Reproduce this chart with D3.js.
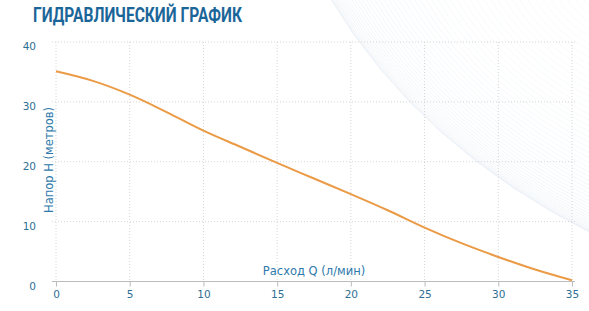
<!DOCTYPE html>
<html>
<head>
<meta charset="utf-8">
<script src="https://cdn.jsdelivr.net/npm/d3@7"></script>
<style>
  html, body { margin: 0; padding: 0; background: #fff; }
  svg { display: block; }
</style>
</head>
<body>
<div id="chart"></div>
<script>
// flow Q (l/min) and head H (m)
var flowQ = [0, 2.5, 5, 7.5, 10, 12.5, 15, 17.5, 20, 22.5, 25, 27.5, 30, 32.5, 35];
var headH = [35.1, 33.5, 31.2, 28.3, 25.2, 22.5, 19.8, 17.2, 14.6, 11.9, 9.0, 6.4, 4.1, 2.0, 0.2];
var xTicks = [0, 5, 10, 15, 20, 25, 30, 35];
var yTicks = [0, 10, 20, 30, 40];

var width = 589, height = 311;

var svg = d3.select("#chart").append("svg")
  .attr("width", width)
  .attr("height", height);

// decorative fan of thin lines at top right
var fan = svg.append("g");
var n = 50;
for (var i = 0; i <= n; i++) {
  var t = Math.pow(i / n, 1.6);
  var p = d3.path();
  p.moveTo(330 + t * 270, -2);
  p.quadraticCurveTo(420 + t * 180, 148 - t * 150, 595, 235 - t * 240);
  fan.append("path")
    .attr("d", p.toString())
    .attr("fill", "none")
    .attr("stroke", "#bfd2e3")
    .attr("stroke-width", 0.5)
    .attr("opacity", 0.45 - 0.3 * (i / n));
}

var x = d3.scaleLinear().domain([0, 35]).range([56, 572]);
var y = d3.scaleLinear().domain([0, 40]).range([281.5, 42]);

// grid
svg.append("g").selectAll("line").data(xTicks).enter().append("line")
  .attr("x1", function (d) { return x(d); })
  .attr("x2", function (d) { return x(d); })
  .attr("y1", y(40))
  .attr("y2", y(0))
  .attr("stroke", "#d6d6d6")
  .attr("stroke-dasharray", "1,2");

svg.append("g").selectAll("line").data(yTicks.slice(1)).enter().append("line")
  .attr("x1", 52)
  .attr("x2", 575)
  .attr("y1", function (d) { return y(d); })
  .attr("y2", function (d) { return y(d); })
  .attr("stroke", "#d6d6d6")
  .attr("stroke-dasharray", "1,2");

// x axis
var xAxis = svg.append("g")
  .attr("transform", "translate(0," + y(0) + ")")
  .call(d3.axisBottom(x).tickValues(xTicks).tickSize(5).tickPadding(4).tickSizeOuter(0));
xAxis.select(".domain").attr("stroke", "#bcbcbc").attr("d", "M52,0H575");
xAxis.selectAll(".tick line").attr("stroke", "#bcbcbc");
xAxis.selectAll(".tick text")
  .attr("fill", "#2f6f93")
  .attr("font-family", "DejaVu Sans, sans-serif")
  .attr("font-size", 10.5);

// y axis labels only
var yAxis = svg.append("g")
  .attr("transform", "translate(36,0)")
  .call(d3.axisLeft(y).tickValues(yTicks).tickSize(0).tickPadding(0));
yAxis.select(".domain").remove();
yAxis.selectAll(".tick text")
  .attr("dy", "0.85em")
  .attr("y", -1)
  .attr("fill", "#2f6f93")
  .attr("font-family", "DejaVu Sans, sans-serif")
  .attr("font-size", 10.5);

// curve
var line = d3.line()
  .x(function (d, i) { return x(flowQ[i]); })
  .y(function (d) { return y(d); })
  .curve(d3.curveMonotoneX);

svg.append("path")
  .datum(headH)
  .attr("d", line)
  .attr("fill", "none")
  .attr("stroke", "#eb9a45")
  .attr("stroke-width", 2);

// titles
svg.append("text")
  .attr("x", 33)
  .attr("y", 22)
  .attr("textLength", 209)
  .attr("lengthAdjust", "spacingAndGlyphs")
  .attr("font-family", "Roboto, sans-serif")
  .attr("font-weight", "bold")
  .attr("font-size", 19.5)
  .attr("fill", "#1b6699")
  .text("ГИДРАВЛИЧЕСКИЙ ГРАФИК");

svg.append("text")
  .attr("x", 314)
  .attr("y", 275)
  .attr("text-anchor", "middle")
  .attr("font-family", "DejaVu Sans, sans-serif")
  .attr("font-size", 11.5)
  .attr("fill", "#2e79ab")
  .text("Расход Q (л/мин)");

svg.append("text")
  .attr("transform", "translate(53,160) rotate(-90)")
  .attr("text-anchor", "middle")
  .attr("font-family", "DejaVu Sans, sans-serif")
  .attr("font-size", 11.5)
  .attr("fill", "#2e79ab")
  .text("Напор Н (метров)");
</script>
</body>
</html>
